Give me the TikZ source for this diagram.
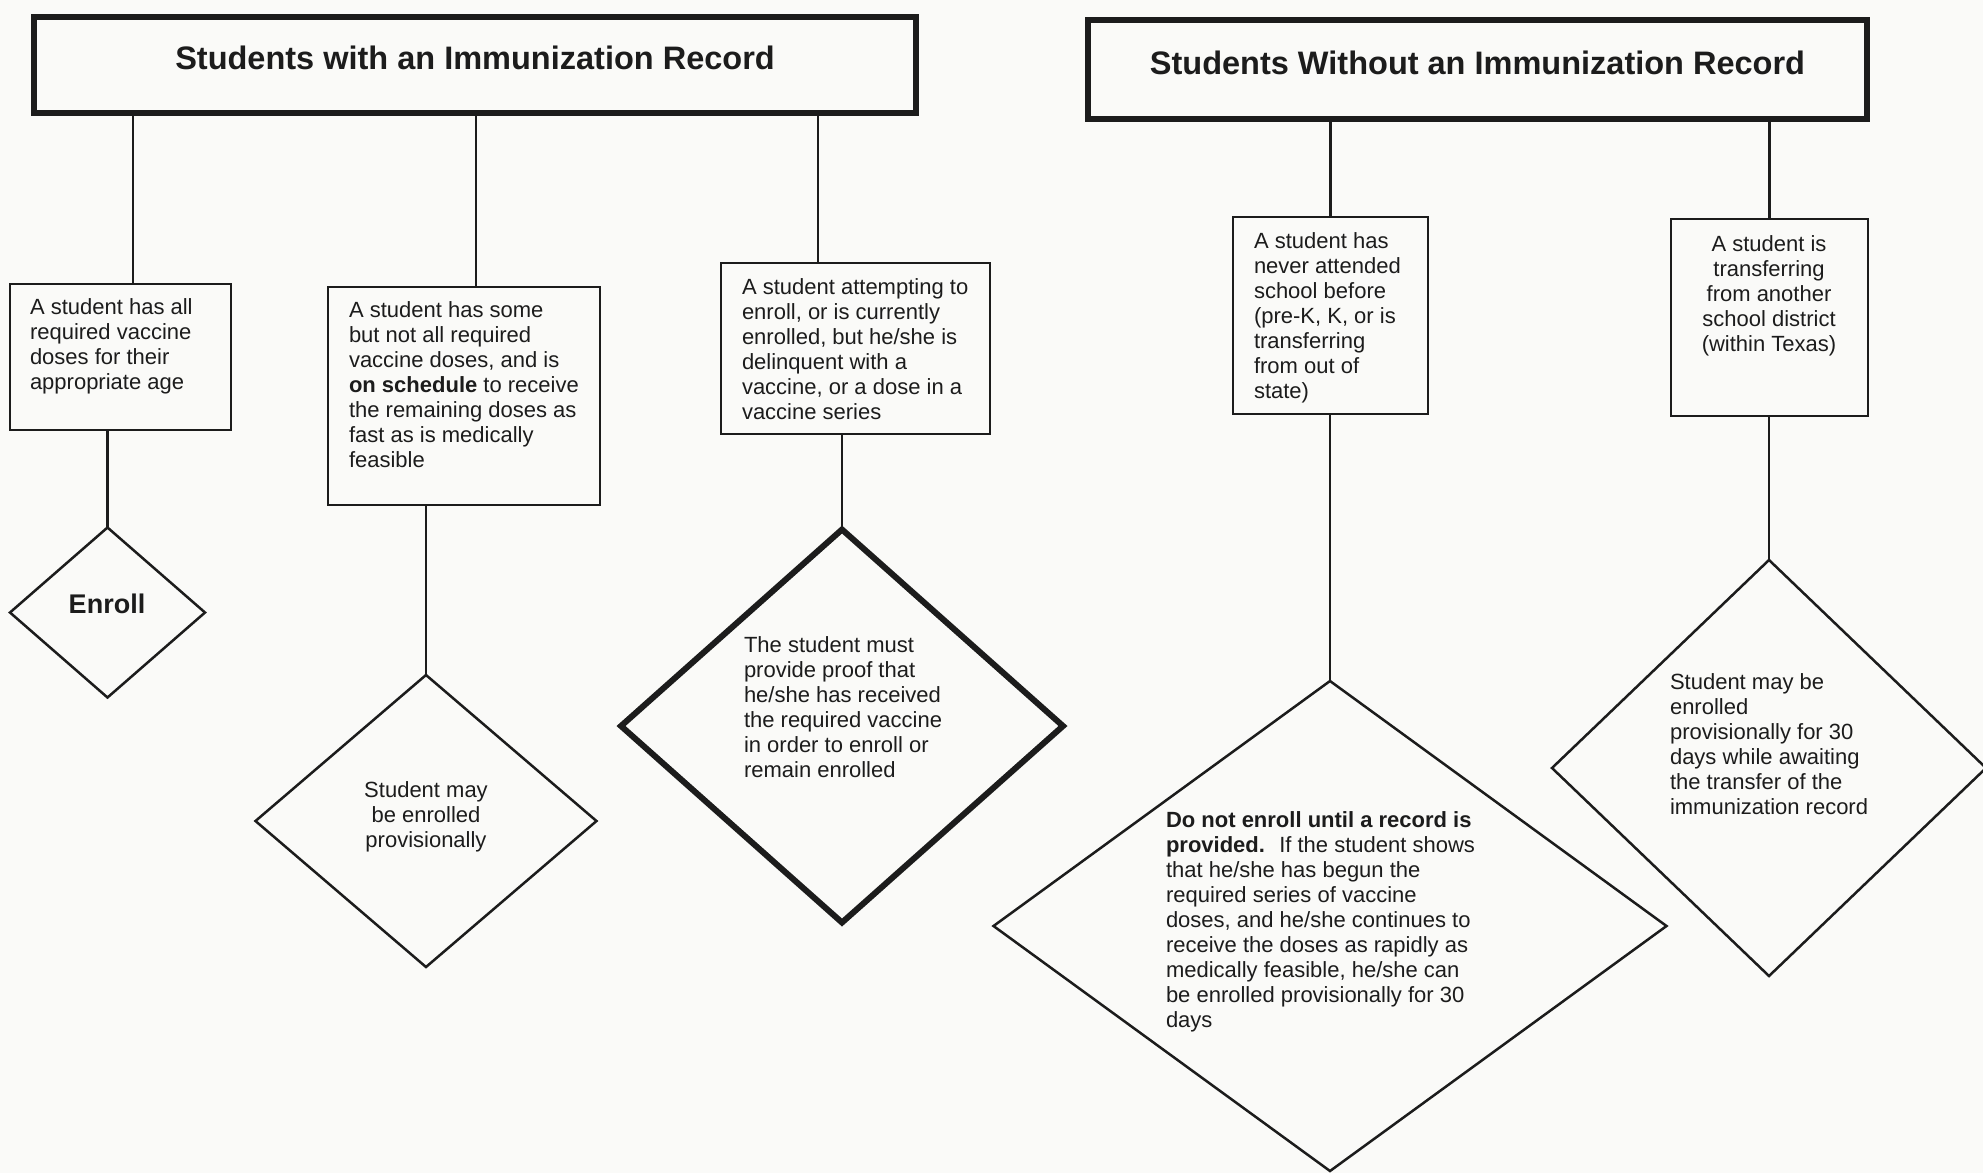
\documentclass[tikz,border=0pt]{standalone}
\usepackage{fontspec}
\setmainfont{Liberation Sans}
\usetikzlibrary{shapes.geometric}
\definecolor{paper}{RGB}{250,250,248}
\definecolor{ink}{RGB}{28,28,28}
\begin{document}
\begin{tikzpicture}[x=1pt,y=-1pt,
  box/.style={draw=ink, line width=2.5pt, inner sep=0pt, outer sep=0pt, anchor=north west},
  titlebox/.style={draw=ink, line width=6pt, inner sep=0pt, outer sep=0pt, anchor=north west,
     font=\fontsize{32.5}{38}\selectfont\bfseries, text=ink},
  txt/.style={inner sep=0pt, outer sep=0pt, align=left, anchor=north west,
     font=\fontsize{22}{25}\selectfont, text=ink},
  dia/.style={draw=ink, diamond, line width=2.5pt, inner sep=0pt, outer sep=0pt},
  conn/.style={draw=ink, line width=2.5pt}]
\fill[paper] (0,0) rectangle (1983,1173);
\useasboundingbox (0,0) rectangle (1983,1173);

% titles
\node[titlebox, minimum width=882pt, minimum height=96pt, text height=24pt, text depth=15pt] (title1) at (34,17) {Students with an Immunization Record};
\node[titlebox, minimum width=779pt, minimum height=99pt, text height=24pt, text depth=14pt] (title2) at (1088,20) {Students Without an Immunization Record};

% boxes
\node[box, minimum width=221pt, minimum height=146pt] (box1) at (10,284) {};
\node[box, minimum width=272pt, minimum height=218pt] (box2) at (328,287) {};
\node[box, minimum width=269pt, minimum height=171pt] (box3) at (721,263) {};
\node[box, minimum width=195pt, minimum height=197pt] (box4) at (1233,217) {};
\node[box, minimum width=197pt, minimum height=197pt] (box5) at (1671,219) {};

% box texts
\node[txt] (t1) at (30,299) {A student has all\\required vaccine\\doses for their\\appropriate age};
\node[txt] (t2) at (349,302) {A student has some\\but not all required\\vaccine doses, and is\\\textbf{on schedule} to receive\\the remaining doses as\\fast as is medically\\feasible};
\node[txt] (t3) at (742,279) {A student attempting to\\enroll, or is currently\\enrolled, but he/she is\\delinquent with a\\vaccine, or a dose in a\\vaccine series};
\node[txt] (t4) at (1254,233) {A student has\\never attended\\school before\\(pre-K, K, or is\\transferring\\from out of\\state)};
\node[txt, align=center, anchor=north] (t5) at (1769,236) {A student is\\transferring\\from another\\school district\\(within Texas)};

% diamonds
\node[dia, minimum width=195pt, minimum height=170pt] (d1) at (107.5,612.5) {};
\node[dia, minimum width=341pt, minimum height=292pt] (d2) at (426,821) {};
\node[dia, line width=6pt, minimum width=442pt, minimum height=393pt] (d3) at (842,726) {};
\node[dia, minimum width=673pt, minimum height=490pt] (d4) at (1330,926) {};
\node[dia, minimum width=434pt, minimum height=416pt] (d5) at (1769,768) {};

% diamond texts
\node[inner sep=0pt, font=\fontsize{27}{30}\selectfont\bfseries, text=ink] (e1) at (107,604) {Enroll};
\node[txt, align=center, anchor=north] (e2) at (426,782) {Student may\\be enrolled\\provisionally};
\node[txt] (e3) at (744,637) {The student must\\provide proof that\\he/she has received\\the required vaccine\\in order to enroll or\\remain enrolled};
\node[txt] (e4) at (1166,812) {\textbf{Do not enroll until a record is}\\\textbf{provided.}~ If the student shows\\that he/she has begun the\\required series of vaccine\\doses, and he/she continues to\\receive the doses as rapidly as\\medically feasible, he/she can\\be enrolled provisionally for 30\\days};
\node[txt] (e5) at (1670,674) {Student may be\\enrolled\\provisionally for 30\\days while awaiting\\the transfer of the\\immunization record};

% connectors from titles
\coordinate (k1) at ([xshift=12.5pt]box1.north);
\coordinate (k2) at ([xshift=12pt]box2.north);
\coordinate (k3) at ([xshift=-37.5pt]box3.north);
\draw[conn] (k1) -- (k1 |- title1.south);
\draw[conn] (k2) -- (k2 |- title1.south);
\draw[conn] (k3) -- (k3 |- title1.south);
\draw[conn] (box4.north) -- (box4.north |- title2.south);
\draw[conn] (box5.north) -- (box5.north |- title2.south);

% connectors from boxes to diamonds
\draw[conn] (d1.north) -- (d1.north |- box1.south);
\draw[conn] (d2.north) -- (d2.north |- box2.south);
\draw[conn] (d3.north) -- (d3.north |- box3.south);
\draw[conn] (d4.north) -- (d4.north |- box4.south);
\draw[conn] (d5.north) -- (d5.north |- box5.south);
\end{tikzpicture}
\end{document}
